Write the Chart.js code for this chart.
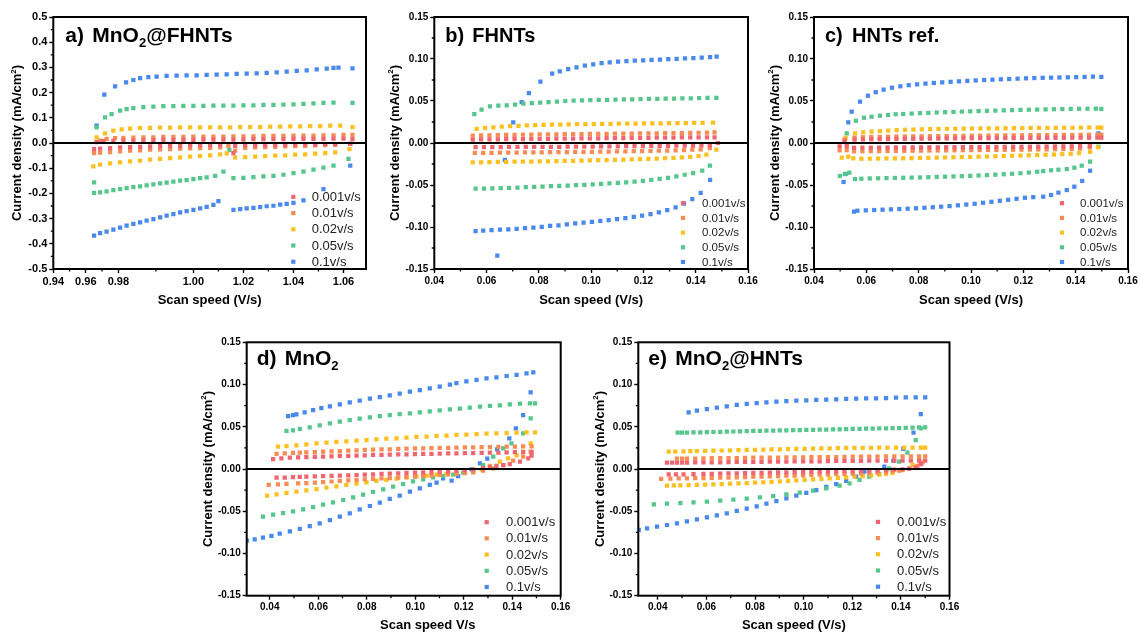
<!DOCTYPE html>
<html>
<head>
<meta charset="utf-8">
<script src="https://cdn.jsdelivr.net/npm/chart.js@4.4.1/dist/chart.umd.min.js"></script>
<style>
  body { margin: 0; background: #fff; width: 1140px; height: 632px; overflow: hidden; position: relative; }
  canvas { position: absolute; }
</style>
</head>
<body>
<canvas id="pa"></canvas>
<canvas id="pb"></canvas>
<canvas id="pc"></canvas>
<canvas id="pd"></canvas>
<canvas id="pe"></canvas>
<script>
// ---------------------------
// Data (x = scan speed, y = current density)
// ---------------------------

const SERIES_LABELS = ["0.001v/s", "0.01v/s", "0.02v/s", "0.05v/s", "0.1v/s"];
const SERIES_COLORS = ["#ef6670", "#f58b55", "#fcc022", "#56c68c", "#4a89ec"];

const Y_TITLE = ["Current density (mA/cm", "2", ")"];

// a) MnO2@FHNTs
const A_X_TICKS = [0.944, 0.957, 0.970, 1.00, 1.02, 1.04, 1.06];
const A_X_LABELS = ["0.94", "0.96", "0.98", "1.00", "1.02", "1.04", "1.06"];
const A_Y_TICKS = [-0.5, -0.4, -0.3, -0.2, -0.1, 0, 0.1, 0.2, 0.3, 0.4, 0.5];

const A_RED = [
  [0.9613,0.003],[0.964,0.007],[0.968,0.008],[0.972,0.009],[0.976,0.009],[0.98,0.011],[0.984,0.011],[0.988,0.012],[0.992,0.012],[0.996,0.012],[1.0,0.012],[1.004,0.013],[1.008,0.013],[1.012,0.013],[1.016,0.013],[1.02,0.013],[1.024,0.015],[1.028,0.015],[1.032,0.015],[1.036,0.015],[1.04,0.016],[1.044,0.016],[1.048,0.016],[1.052,0.016],[1.056,0.017],[1.06,0.017],[1.0636,0.015],
  [0.9603,-0.024],[0.9627,-0.022],[0.9667,-0.02],[0.9707,-0.017],[0.9747,-0.016],[0.9787,-0.015],[0.9827,-0.013],[0.9867,-0.012],[0.9907,-0.011],[0.9947,-0.011],[0.9987,-0.009],[1.0027,-0.008],[1.0067,-0.008],[1.0107,-0.007],[1.016,-0.04],[1.0167,-0.011],[1.0207,-0.009],[1.0247,-0.008],[1.0287,-0.008],[1.0327,-0.007],[1.0367,-0.007],[1.0407,-0.005],[1.0447,-0.005],[1.0487,-0.005],[1.0527,-0.004],[1.0567,-0.004],[1.0627,-0.003]
];
const A_ORANGE = [
  [0.9627,0.009],[0.9653,0.016],[0.9687,0.019],[0.972,0.02],[0.976,0.021],[0.98,0.022],[0.984,0.022],[0.988,0.024],[0.992,0.024],[0.996,0.024],[1.0,0.025],[1.004,0.025],[1.008,0.025],[1.012,0.025],[1.016,0.026],[1.02,0.026],[1.024,0.026],[1.028,0.028],[1.032,0.028],[1.036,0.028],[1.04,0.029],[1.044,0.029],[1.048,0.029],[1.052,0.03],[1.056,0.03],[1.06,0.032],[1.0636,0.032],
  [0.9603,-0.04],[0.9627,-0.038],[0.9667,-0.036],[0.9707,-0.033],[0.9747,-0.03],[0.9787,-0.029],[0.9827,-0.026],[0.9867,-0.025],[0.9907,-0.024],[0.9947,-0.022],[0.9987,-0.021],[1.0027,-0.02],[1.0067,-0.019],[1.0107,-0.017],[1.014,-0.011],[1.0167,-0.03],[1.0207,-0.019],[1.0247,-0.017],[1.0287,-0.016],[1.0327,-0.015],[1.0367,-0.013],[1.0407,-0.012],[1.0447,-0.011],[1.0487,-0.009],[1.0527,-0.008],[1.0567,-0.007],[1.0627,-0.003]
];
const A_YELLOW = [
  [0.9613,0.022],[0.9647,0.038],[0.968,0.049],[0.9713,0.054],[0.9747,0.057],[0.9787,0.06],[0.9827,0.06],[0.9867,0.061],[0.9907,0.061],[0.9947,0.062],[0.9987,0.062],[1.0027,0.062],[1.0067,0.062],[1.0107,0.062],[1.0147,0.062],[1.0187,0.063],[1.0227,0.063],[1.0267,0.063],[1.0307,0.065],[1.0347,0.065],[1.0387,0.066],[1.0427,0.066],[1.0467,0.067],[1.0507,0.067],[1.0547,0.069],[1.0587,0.069],[1.0636,0.063],
  [0.96,-0.093],[0.9627,-0.086],[0.9667,-0.081],[0.9707,-0.077],[0.9747,-0.073],[0.9787,-0.07],[0.9827,-0.066],[0.9867,-0.063],[0.9907,-0.06],[0.9947,-0.057],[0.9987,-0.054],[1.0027,-0.052],[1.0067,-0.049],[1.0107,-0.045],[1.0133,-0.041],[1.0167,-0.057],[1.0207,-0.056],[1.0247,-0.054],[1.0287,-0.052],[1.0327,-0.05],[1.0367,-0.049],[1.0407,-0.046],[1.0447,-0.045],[1.0487,-0.042],[1.0527,-0.04],[1.0567,-0.037],[1.0624,-0.024]
];
const A_GREEN = [
  [0.9613,0.062],[0.9647,0.102],[0.9673,0.115],[0.9707,0.128],[0.9733,0.134],[0.976,0.138],[0.98,0.142],[0.984,0.144],[0.988,0.146],[0.992,0.146],[0.996,0.147],[1.0,0.147],[1.004,0.147],[1.008,0.148],[1.012,0.148],[1.016,0.148],[1.02,0.149],[1.024,0.149],[1.028,0.151],[1.032,0.151],[1.036,0.152],[1.04,0.153],[1.044,0.155],[1.048,0.157],[1.052,0.159],[1.056,0.16],[1.0636,0.159],
  [0.9603,-0.156],[0.9603,-0.198],[0.9627,-0.196],[0.9653,-0.192],[0.968,-0.187],[0.9707,-0.183],[0.9733,-0.179],[0.976,-0.175],[0.9787,-0.172],[0.9813,-0.168],[0.984,-0.164],[0.9867,-0.16],[0.9893,-0.157],[0.992,-0.153],[0.9947,-0.149],[0.9973,-0.147],[1.0,-0.143],[1.0027,-0.139],[1.0053,-0.136],[1.0087,-0.13],[1.012,-0.114],[1.0144,-0.028],[1.016,-0.139],[1.02,-0.138],[1.024,-0.135],[1.028,-0.132],[1.032,-0.13],[1.036,-0.126],[1.04,-0.12],[1.044,-0.114],[1.048,-0.106],[1.052,-0.098],[1.056,-0.09],[1.062,-0.063]
];
const A_BLUE = [
  [0.9613,0.069],[0.9644,0.192],[0.9687,0.225],[0.9731,0.241],[0.976,0.25],[0.9787,0.257],[0.982,0.261],[0.9853,0.263],[0.9893,0.266],[0.9933,0.267],[0.9973,0.268],[1.0013,0.268],[1.0053,0.27],[1.0093,0.271],[1.0133,0.272],[1.0173,0.274],[1.0213,0.275],[1.0253,0.276],[1.0293,0.278],[1.0333,0.28],[1.0373,0.283],[1.0413,0.286],[1.0453,0.288],[1.0493,0.292],[1.0533,0.295],[1.056,0.298],[1.058,0.299],[1.0636,0.296],
  [0.9603,-0.368],[0.9627,-0.358],[0.9653,-0.352],[0.968,-0.344],[0.9707,-0.336],[0.9733,-0.328],[0.976,-0.321],[0.9787,-0.315],[0.9813,-0.308],[0.984,-0.302],[0.9867,-0.295],[0.9893,-0.288],[0.992,-0.282],[0.9947,-0.275],[0.9973,-0.27],[1.0,-0.265],[1.0027,-0.259],[1.0053,-0.253],[1.008,-0.246],[1.01,-0.231],[1.016,-0.265],[1.0187,-0.262],[1.0213,-0.259],[1.024,-0.257],[1.0267,-0.254],[1.0293,-0.251],[1.032,-0.249],[1.0347,-0.245],[1.0373,-0.242],[1.04,-0.238],[1.044,-0.228],[1.052,-0.183],[1.0627,-0.09]
];

// b) FHNTs
const BC_X_TICKS = [0.04, 0.06, 0.08, 0.10, 0.12, 0.14, 0.16];
const BCDE_Y_TICKS = [-0.15, -0.10, -0.05, 0, 0.05, 0.10, 0.15];

const B_RED = [
  [0.0547,0.004],[0.0579,0.0042],[0.0611,0.0043],[0.0643,0.0044],[0.0675,0.0045],[0.0707,0.0046],[0.0739,0.0047],[0.0771,0.0048],[0.0803,0.0049],[0.0835,0.005],[0.0867,0.0051],[0.0899,0.0052],[0.0931,0.0053],[0.0963,0.0054],[0.0995,0.0055],[0.1027,0.0056],[0.1059,0.0057],[0.1091,0.0058],[0.1123,0.0059],[0.1155,0.006],[0.1187,0.0061],[0.1219,0.0062],[0.1251,0.0063],[0.1283,0.0064],[0.1315,0.0065],[0.1347,0.0066],[0.1379,0.0066],[0.1411,0.0067],[0.1443,0.0067],[0.1472,0.0067],
  [0.0558,-0.0048],[0.059,-0.0048],[0.0622,-0.0048],[0.0654,-0.0048],[0.0686,-0.0047],[0.0718,-0.0047],[0.075,-0.0047],[0.0782,-0.0046],[0.0814,-0.0046],[0.0846,-0.0045],[0.0878,-0.0045],[0.091,-0.0044],[0.0942,-0.0044],[0.0974,-0.0043],[0.1006,-0.0042],[0.1038,-0.0041],[0.107,-0.004],[0.1102,-0.0039],[0.1134,-0.0038],[0.1166,-0.0037],[0.1198,-0.0036],[0.123,-0.0035],[0.1262,-0.0034],[0.1294,-0.0033],[0.1326,-0.0032],[0.1358,-0.0031],[0.139,-0.003],[0.1422,-0.0029],[0.1454,-0.0028],[0.1485,0.0]
];
const B_ORANGE = [
  [0.0547,0.0087],[0.0579,0.009],[0.0611,0.0092],[0.0643,0.0094],[0.0675,0.0096],[0.0707,0.0098],[0.0739,0.0099],[0.0771,0.01],[0.0803,0.0102],[0.0835,0.0103],[0.0867,0.0104],[0.0899,0.0105],[0.0931,0.0106],[0.0963,0.0107],[0.0995,0.0108],[0.1027,0.0109],[0.1059,0.011],[0.1091,0.0111],[0.1123,0.0112],[0.1155,0.0113],[0.1187,0.0114],[0.1219,0.0115],[0.1251,0.0116],[0.1283,0.0117],[0.1315,0.0118],[0.1347,0.0119],[0.1379,0.012],[0.1411,0.0122],[0.1443,0.0124],[0.1472,0.0127],
  [0.0555,-0.0119],[0.0587,-0.0118],[0.0619,-0.0117],[0.0651,-0.0116],[0.0683,-0.0115],[0.0715,-0.0114],[0.0747,-0.0113],[0.0779,-0.0112],[0.0811,-0.0111],[0.0843,-0.011],[0.0875,-0.0109],[0.0907,-0.0108],[0.0939,-0.0107],[0.0971,-0.0106],[0.1003,-0.0105],[0.1035,-0.0104],[0.1067,-0.0102],[0.1099,-0.0101],[0.1131,-0.0099],[0.1163,-0.0098],[0.1195,-0.0096],[0.1227,-0.0094],[0.1259,-0.0092],[0.1291,-0.009],[0.1323,-0.0087],[0.1355,-0.0084],[0.1387,-0.008],[0.1419,-0.0075],[0.1454,-0.006]
];
const B_YELLOW = [
  [0.0562,0.0167],[0.0594,0.0179],[0.0626,0.0187],[0.0658,0.0195],[0.069,0.0201],[0.0722,0.0205],[0.0754,0.0209],[0.0786,0.0213],[0.0818,0.0216],[0.085,0.0218],[0.0882,0.022],[0.0914,0.0222],[0.0946,0.0224],[0.0978,0.0225],[0.101,0.0226],[0.1042,0.0228],[0.1074,0.0229],[0.1106,0.023],[0.1138,0.0231],[0.117,0.0232],[0.1202,0.0233],[0.1234,0.0234],[0.1266,0.0235],[0.1298,0.0236],[0.133,0.0237],[0.1362,0.0238],[0.1394,0.0239],[0.1426,0.024],[0.1466,0.0242],
  [0.0547,-0.023],[0.0579,-0.023],[0.0611,-0.0228],[0.0643,-0.0226],[0.0675,-0.0225],[0.0707,-0.0223],[0.0739,-0.0222],[0.0771,-0.0221],[0.0803,-0.022],[0.0835,-0.0218],[0.0867,-0.0216],[0.0899,-0.0214],[0.0931,-0.0212],[0.0963,-0.021],[0.0995,-0.0208],[0.1027,-0.0205],[0.1059,-0.0203],[0.1091,-0.0201],[0.1123,-0.0198],[0.1155,-0.0195],[0.1187,-0.0192],[0.1219,-0.0189],[0.1251,-0.0185],[0.1283,-0.0181],[0.1315,-0.0176],[0.1347,-0.0171],[0.1379,-0.0165],[0.1411,-0.0155],[0.1441,-0.0139],[0.1479,-0.0079]
];
const B_GREEN = [
  [0.0553,0.0345],[0.0581,0.0397],[0.0613,0.0437],[0.0645,0.0444],[0.0677,0.0448],[0.0709,0.0456],[0.0741,0.0468],[0.0773,0.0476],[0.0805,0.048],[0.0837,0.0488],[0.0869,0.0492],[0.0901,0.05],[0.0933,0.0504],[0.0965,0.0508],[0.0997,0.051],[0.1029,0.0512],[0.1061,0.0514],[0.1093,0.0516],[0.1125,0.0518],[0.1157,0.052],[0.1189,0.0522],[0.1221,0.0524],[0.1253,0.0526],[0.1285,0.0528],[0.1317,0.0528],[0.1349,0.053],[0.1381,0.0532],[0.1413,0.0534],[0.1445,0.0536],[0.1479,0.0536],
  [0.0558,-0.0544],[0.059,-0.0542],[0.0622,-0.054],[0.0654,-0.0538],[0.0686,-0.0534],[0.0718,-0.053],[0.075,-0.0526],[0.0782,-0.0522],[0.0814,-0.0518],[0.0846,-0.0514],[0.0878,-0.051],[0.091,-0.0506],[0.0942,-0.0502],[0.0974,-0.0498],[0.1006,-0.0494],[0.1038,-0.0488],[0.107,-0.0482],[0.1102,-0.0476],[0.1134,-0.0468],[0.1166,-0.046],[0.1198,-0.045],[0.123,-0.044],[0.1262,-0.0428],[0.1294,-0.0414],[0.1326,-0.0398],[0.1358,-0.0378],[0.139,-0.036],[0.1425,-0.033],[0.1454,-0.027]
];
const B_BLUE = [
  [0.0641,-0.134],[0.067,-0.02],[0.0702,0.0246],[0.0734,0.0488],[0.0762,0.0595],[0.0806,0.073],[0.0851,0.0825],[0.088,0.0853],[0.0912,0.088],[0.0944,0.09],[0.0976,0.092],[0.1008,0.0937],[0.104,0.0952],[0.1071,0.096],[0.1103,0.0968],[0.1135,0.0974],[0.1167,0.098],[0.1199,0.0984],[0.1231,0.099],[0.1263,0.0994],[0.1295,0.0998],[0.1327,0.1002],[0.1359,0.1006],[0.1391,0.101],[0.1423,0.1016],[0.1455,0.1022],[0.148,0.1028],
  [0.0558,-0.105],[0.0587,-0.1044],[0.0619,-0.1038],[0.0651,-0.1032],[0.0683,-0.1028],[0.0715,-0.1022],[0.0747,-0.1014],[0.0779,-0.1006],[0.0811,-0.0998],[0.0843,-0.0988],[0.0875,-0.098],[0.0907,-0.097],[0.0939,-0.0958],[0.0971,-0.0948],[0.1003,-0.0938],[0.1035,-0.0928],[0.1067,-0.0918],[0.1099,-0.0906],[0.1131,-0.0894],[0.1163,-0.088],[0.1195,-0.0865],[0.1227,-0.0848],[0.1259,-0.0825],[0.1291,-0.0798],[0.1323,-0.0765],[0.1355,-0.0722],[0.1387,-0.0668],[0.1419,-0.0595],[0.1455,-0.044]
];

// c) HNTs ref.
const C_RED = [
  [0.0517,0.002],[0.0555,0.004],[0.0587,0.0043],[0.0619,0.0045],[0.0651,0.0046],[0.0683,0.0047],[0.0715,0.0048],[0.0747,0.0049],[0.0779,0.005],[0.0811,0.0051],[0.0843,0.0052],[0.0875,0.0053],[0.0907,0.0054],[0.0939,0.0055],[0.0971,0.0055],[0.1003,0.0056],[0.1035,0.0057],[0.1067,0.0057],[0.1099,0.0058],[0.1131,0.0059],[0.1163,0.0059],[0.1195,0.006],[0.1227,0.006],[0.1259,0.0061],[0.1291,0.0061],[0.1323,0.0062],[0.1355,0.0062],[0.1387,0.0063],[0.1419,0.0063],[0.1451,0.0063],[0.1483,0.0064],[0.1498,0.0063],
  [0.0498,-0.004],[0.0525,-0.0035],[0.0553,-0.0056],[0.0585,-0.0055],[0.0617,-0.0055],[0.0649,-0.0054],[0.0681,-0.0054],[0.0713,-0.0053],[0.0745,-0.0053],[0.0777,-0.0052],[0.0809,-0.0052],[0.0841,-0.0051],[0.0873,-0.0051],[0.0905,-0.005],[0.0937,-0.005],[0.0969,-0.0049],[0.1001,-0.0048],[0.1033,-0.0048],[0.1065,-0.0047],[0.1097,-0.0047],[0.1129,-0.0046],[0.1161,-0.0045],[0.1193,-0.0045],[0.1225,-0.0044],[0.1257,-0.0043],[0.1289,-0.0042],[0.1321,-0.0041],[0.1353,-0.004],[0.1385,-0.0039],[0.1417,-0.0038],[0.1454,-0.0036]
];
const C_ORANGE = [
  [0.0517,0.004],[0.0555,0.0063],[0.0587,0.0068],[0.0619,0.0071],[0.0651,0.0073],[0.0683,0.0075],[0.0715,0.0077],[0.0747,0.0078],[0.0779,0.0079],[0.0811,0.008],[0.0843,0.0081],[0.0875,0.0082],[0.0907,0.0083],[0.0939,0.0084],[0.0971,0.0085],[0.1003,0.0086],[0.1035,0.0087],[0.1067,0.0088],[0.1099,0.0089],[0.1131,0.009],[0.1163,0.0091],[0.1195,0.0092],[0.1227,0.0093],[0.1259,0.0093],[0.1291,0.0094],[0.1323,0.0095],[0.1355,0.0096],[0.1387,0.0096],[0.1419,0.0097],[0.1451,0.0098],[0.1483,0.0099],[0.1498,0.0099],
  [0.0498,-0.0087],[0.0525,-0.0085],[0.0553,-0.0099],[0.0585,-0.0098],[0.0617,-0.0097],[0.0649,-0.0096],[0.0681,-0.0095],[0.0713,-0.0094],[0.0745,-0.0093],[0.0777,-0.0092],[0.0809,-0.0091],[0.0841,-0.009],[0.0873,-0.0089],[0.0905,-0.0088],[0.0937,-0.0087],[0.0969,-0.0086],[0.1001,-0.0085],[0.1033,-0.0084],[0.1065,-0.0083],[0.1097,-0.0082],[0.1129,-0.0081],[0.1161,-0.008],[0.1193,-0.0079],[0.1225,-0.0078],[0.1257,-0.0077],[0.1289,-0.0076],[0.1321,-0.0074],[0.1353,-0.0072],[0.1385,-0.007],[0.1417,-0.0067],[0.1454,-0.0052]
];
const C_YELLOW = [
  [0.0521,0.0063],[0.0557,0.0115],[0.0588,0.0127],[0.062,0.0135],[0.0652,0.0142],[0.0684,0.0148],[0.0716,0.0153],[0.0748,0.0157],[0.078,0.016],[0.0812,0.0163],[0.0844,0.0165],[0.0876,0.0167],[0.0908,0.0169],[0.094,0.017],[0.0972,0.0171],[0.1004,0.0172],[0.1036,0.0173],[0.1068,0.0174],[0.11,0.0175],[0.1132,0.0176],[0.1164,0.0177],[0.1196,0.0178],[0.1228,0.0179],[0.126,0.018],[0.1292,0.018],[0.1324,0.0181],[0.1356,0.0182],[0.1388,0.0182],[0.142,0.0183],[0.1452,0.0184],[0.1484,0.0184],[0.1498,0.0183],
  [0.0506,-0.0175],[0.0531,-0.0163],[0.055,-0.0182],[0.0581,-0.0187],[0.0613,-0.0186],[0.0645,-0.0185],[0.0677,-0.0184],[0.0709,-0.0183],[0.0741,-0.0182],[0.0773,-0.018],[0.0805,-0.0178],[0.0837,-0.0176],[0.0869,-0.0174],[0.0901,-0.0172],[0.0933,-0.017],[0.0965,-0.0168],[0.0997,-0.0166],[0.1029,-0.0163],[0.1061,-0.0161],[0.1093,-0.0158],[0.1125,-0.0155],[0.1157,-0.0152],[0.1189,-0.0149],[0.1221,-0.0146],[0.1253,-0.0143],[0.1285,-0.014],[0.1317,-0.0137],[0.1349,-0.0133],[0.1381,-0.0128],[0.1413,-0.012],[0.1455,-0.0104],[0.1485,-0.005]
];
const C_GREEN = [
  [0.0525,0.0115],[0.056,0.0265],[0.0591,0.0301],[0.062,0.0313],[0.0652,0.0325],[0.0683,0.0333],[0.0712,0.0342],[0.0741,0.0345],[0.0773,0.035],[0.0805,0.0355],[0.0837,0.0359],[0.0869,0.0363],[0.0901,0.0367],[0.0933,0.037],[0.0965,0.0374],[0.0997,0.0377],[0.1029,0.038],[0.1061,0.0383],[0.1093,0.0386],[0.1125,0.0389],[0.1157,0.0392],[0.1189,0.0394],[0.1221,0.0396],[0.1253,0.0398],[0.1285,0.04],[0.1317,0.0402],[0.1349,0.0404],[0.1381,0.0406],[0.1413,0.0407],[0.1445,0.0408],[0.1477,0.0409],[0.1498,0.0405],
  [0.0499,-0.0393],[0.0518,-0.0369],[0.0535,-0.0354],[0.0557,-0.0429],[0.0581,-0.0425],[0.0613,-0.0422],[0.0645,-0.042],[0.0677,-0.0418],[0.0709,-0.0416],[0.0741,-0.0414],[0.0773,-0.0412],[0.0805,-0.041],[0.0837,-0.0407],[0.0869,-0.0404],[0.0901,-0.0401],[0.0933,-0.0398],[0.0965,-0.0395],[0.0997,-0.0391],[0.1029,-0.0387],[0.1061,-0.0382],[0.1093,-0.0377],[0.1125,-0.0372],[0.1157,-0.0366],[0.1189,-0.036],[0.1221,-0.0352],[0.1253,-0.0342],[0.1276,-0.0335],[0.1306,-0.0325],[0.1334,-0.0318],[0.1366,-0.031],[0.1395,-0.0294],[0.1423,-0.027],[0.1455,-0.0222],[0.1487,-0.0044]
];
const C_BLUE = [
  [0.0513,-0.0464],[0.0521,-0.0369],[0.0531,0.0246],[0.0544,0.0373],[0.0576,0.0492],[0.0606,0.0563],[0.0636,0.0605],[0.0666,0.0635],[0.0698,0.0658],[0.073,0.0675],[0.0762,0.0688],[0.0794,0.0698],[0.0826,0.0707],[0.0858,0.0715],[0.089,0.0722],[0.0922,0.0728],[0.0954,0.0734],[0.0986,0.074],[0.1018,0.0745],[0.105,0.075],[0.1082,0.0754],[0.1114,0.0758],[0.1146,0.0762],[0.1178,0.0766],[0.121,0.077],[0.1242,0.0773],[0.1274,0.0776],[0.1306,0.0778],[0.1338,0.078],[0.137,0.0782],[0.1402,0.0784],[0.1434,0.0786],[0.1466,0.079],[0.1498,0.0787],[0.1487,0.0115],
  [0.0553,-0.0817],[0.0566,-0.0806],[0.0598,-0.0802],[0.063,-0.0798],[0.0662,-0.0794],[0.0694,-0.079],[0.0726,-0.0786],[0.0758,-0.0782],[0.079,-0.0777],[0.0822,-0.0771],[0.0854,-0.0765],[0.0886,-0.0758],[0.0918,-0.0751],[0.095,-0.0742],[0.0982,-0.0733],[0.1014,-0.0724],[0.1046,-0.0712],[0.1078,-0.07],[0.111,-0.0688],[0.1142,-0.0676],[0.1174,-0.0664],[0.1206,-0.0652],[0.1238,-0.0645],[0.1276,-0.0639],[0.1306,-0.0619],[0.1334,-0.0591],[0.1366,-0.056],[0.1395,-0.052],[0.1425,-0.0452],[0.1455,-0.033]
];

// d) MnO2
const DE_X_TICKS = [0.04, 0.06, 0.08, 0.10, 0.12, 0.14, 0.16];

const D_RED = [
  [0.0414,0.0118],[0.0448,0.0126],[0.0483,0.0134],[0.0517,0.0138],[0.0551,0.0142],[0.0586,0.0144],[0.062,0.0146],[0.0655,0.015],[0.0689,0.0154],[0.0724,0.0156],[0.0758,0.0158],[0.0792,0.0162],[0.0826,0.0166],[0.0861,0.0168],[0.0895,0.017],[0.093,0.0172],[0.0964,0.0174],[0.0999,0.0176],[0.1033,0.0178],[0.1067,0.018],[0.1101,0.0182],[0.1136,0.0184],[0.117,0.0185],[0.1205,0.0187],[0.1239,0.0189],[0.1274,0.0191],[0.1308,0.0193],[0.1343,0.0195],[0.1377,0.0197],[0.1411,0.0199],[0.1445,0.0201],[0.148,0.0201],
  [0.0428,-0.0103],[0.0462,-0.0101],[0.0496,-0.0097],[0.0524,-0.0094],[0.0551,-0.0091],[0.0586,-0.0087],[0.062,-0.0083],[0.0655,-0.0081],[0.0689,-0.0079],[0.0724,-0.0075],[0.0758,-0.0071],[0.0792,-0.0067],[0.0826,-0.0063],[0.0861,-0.0059],[0.0895,-0.0055],[0.093,-0.0051],[0.0964,-0.0047],[0.0999,-0.0043],[0.1033,-0.0039],[0.1067,-0.0036],[0.1101,-0.0032],[0.1136,-0.0027],[0.117,-0.002],[0.1205,-0.0012],[0.1239,-0.0004],[0.128,0.0012],[0.1308,0.0024],[0.1335,0.0036],[0.1363,0.0047],[0.139,0.0059],[0.1432,0.0087],[0.1466,0.0126],[0.148,0.0158]
];
const D_ORANGE = [
  [0.0428,0.0178],[0.0462,0.0184],[0.0496,0.019],[0.0524,0.0194],[0.0551,0.0197],[0.0586,0.0201],[0.062,0.0205],[0.0655,0.0209],[0.0689,0.0213],[0.0724,0.0217],[0.0758,0.0221],[0.0792,0.0225],[0.0826,0.0229],[0.0861,0.0231],[0.0895,0.0233],[0.093,0.0237],[0.0964,0.0241],[0.0999,0.0243],[0.1033,0.0245],[0.1067,0.0247],[0.1101,0.0249],[0.1136,0.0251],[0.117,0.0253],[0.1205,0.0255],[0.1239,0.0257],[0.1274,0.0258],[0.1308,0.026],[0.1343,0.0262],[0.1377,0.0264],[0.1411,0.0266],[0.1445,0.0268],[0.148,0.0268],
  [0.0396,-0.0189],[0.0434,-0.0182],[0.0469,-0.0177],[0.0517,-0.017],[0.0551,-0.0166],[0.0586,-0.016],[0.062,-0.0154],[0.0655,-0.0148],[0.0689,-0.0142],[0.0724,-0.0136],[0.0758,-0.013],[0.0792,-0.0124],[0.0826,-0.0118],[0.0861,-0.0112],[0.0895,-0.0107],[0.093,-0.0101],[0.0964,-0.0095],[0.0999,-0.0089],[0.1033,-0.0083],[0.1067,-0.0077],[0.1101,-0.0071],[0.1136,-0.0065],[0.117,-0.0059],[0.1205,-0.005],[0.1239,-0.0039],[0.128,-0.002],[0.1322,0.0008],[0.1363,0.0047],[0.1404,0.0099],[0.1445,0.0146],[0.1476,0.0205]
];
const D_YELLOW = [
  [0.0434,0.0264],[0.0469,0.0272],[0.051,0.028],[0.0551,0.0292],[0.0593,0.0304],[0.0634,0.0312],[0.0675,0.032],[0.0716,0.0328],[0.0758,0.0335],[0.0799,0.0343],[0.084,0.0351],[0.0881,0.0359],[0.0923,0.0363],[0.0964,0.0371],[0.1005,0.0379],[0.1047,0.0383],[0.1088,0.0391],[0.1129,0.0395],[0.117,0.0403],[0.1211,0.0407],[0.1253,0.0414],[0.1294,0.0418],[0.1335,0.0422],[0.1377,0.0426],[0.1418,0.043],[0.1459,0.0434],[0.1494,0.0434],
  [0.0389,-0.0316],[0.0428,-0.03],[0.0469,-0.0284],[0.051,-0.0268],[0.0551,-0.0253],[0.0593,-0.0237],[0.0634,-0.0221],[0.0675,-0.0205],[0.0716,-0.0189],[0.0758,-0.0174],[0.0799,-0.0158],[0.084,-0.0142],[0.0881,-0.013],[0.0923,-0.0114],[0.0964,-0.0099],[0.1005,-0.0087],[0.1047,-0.0079],[0.1088,-0.0067],[0.1129,-0.0059],[0.117,-0.0051],[0.1205,-0.0043],[0.1239,-0.0028],[0.1274,-0.0004],[0.1308,0.0036],[0.1349,0.0087],[0.1383,0.0126],[0.1418,0.0162],[0.1445,0.0205],[0.1476,0.0304]
];
const D_GREEN = [
  [0.0469,0.045],[0.0496,0.0458],[0.0524,0.0474],[0.0565,0.0493],[0.0606,0.0517],[0.0648,0.0541],[0.0689,0.056],[0.073,0.058],[0.0771,0.0596],[0.0813,0.0612],[0.0854,0.0627],[0.0895,0.0639],[0.0936,0.0651],[0.0978,0.0659],[0.1019,0.0671],[0.106,0.0683],[0.1101,0.0695],[0.1143,0.0706],[0.1184,0.0714],[0.1225,0.0726],[0.1267,0.0738],[0.1308,0.0746],[0.1349,0.0754],[0.139,0.0766],[0.1432,0.0773],[0.1473,0.0777],[0.1494,0.0777],
  [0.0372,-0.0564],[0.0414,-0.0541],[0.0455,-0.0521],[0.0496,-0.0501],[0.0538,-0.0478],[0.0579,-0.045],[0.062,-0.0422],[0.0661,-0.0395],[0.0703,-0.0367],[0.0744,-0.0335],[0.0785,-0.0304],[0.0826,-0.0272],[0.0868,-0.0241],[0.0909,-0.0209],[0.095,-0.0178],[0.0991,-0.0146],[0.1033,-0.0122],[0.1074,-0.0099],[0.1115,-0.0083],[0.1157,-0.0067],[0.1198,-0.0043],[0.1239,-0.0012],[0.128,0.0047],[0.1322,0.0146],[0.1363,0.0245],[0.1397,0.0304],[0.1445,0.0422],[0.1476,0.06]
];
const D_BLUE = [
  [0.0476,0.0627],[0.0496,0.0639],[0.051,0.0647],[0.0544,0.0671],[0.0579,0.0698],[0.0613,0.0722],[0.0648,0.0742],[0.0689,0.0766],[0.073,0.0789],[0.0771,0.0809],[0.0813,0.0833],[0.0854,0.0852],[0.0895,0.0872],[0.0936,0.0892],[0.0978,0.0915],[0.1019,0.0935],[0.106,0.0955],[0.1101,0.0975],[0.1143,0.0998],[0.117,0.1018],[0.1211,0.1038],[0.1253,0.1054],[0.1294,0.1073],[0.1335,0.1085],[0.1377,0.1101],[0.1418,0.1113],[0.1459,0.1133],[0.1487,0.1144],
  [0.0306,-0.0848],[0.0338,-0.0833],[0.0372,-0.0813],[0.0407,-0.0793],[0.0441,-0.0766],[0.0483,-0.0738],[0.0524,-0.071],[0.0565,-0.0675],[0.0606,-0.0643],[0.0648,-0.0604],[0.0689,-0.0564],[0.073,-0.0525],[0.0771,-0.0477],[0.0813,-0.0438],[0.0854,-0.0399],[0.0895,-0.0355],[0.0936,-0.0316],[0.0978,-0.0268],[0.1019,-0.0229],[0.106,-0.0189],[0.1088,-0.0162],[0.1115,-0.011],[0.115,-0.0138],[0.1177,-0.0083],[0.1232,-0.0004],[0.1267,0.0067],[0.1297,0.0122],[0.1338,0.0233],[0.1388,0.0363],[0.1415,0.0481],[0.1445,0.0639],[0.1476,0.0908]
];

// e) MnO2@HNTs
const E_RED = [
  [0.0438,0.0075],[0.0459,0.0075],[0.0479,0.0075],[0.05,0.0075],[0.052,0.0075],[0.0554,0.0077],[0.0588,0.0079],[0.0622,0.0079],[0.0657,0.0079],[0.0691,0.0081],[0.0725,0.0083],[0.0759,0.0083],[0.0793,0.0083],[0.0827,0.0085],[0.0861,0.0087],[0.0895,0.0087],[0.0929,0.0087],[0.0963,0.0089],[0.0998,0.0091],[0.1032,0.0091],[0.1066,0.0091],[0.11,0.0093],[0.1134,0.0095],[0.1168,0.0095],[0.1202,0.0095],[0.1236,0.0097],[0.127,0.0099],[0.1304,0.0099],[0.1339,0.0099],[0.1373,0.0099],[0.1407,0.0099],[0.1441,0.0099],[0.1475,0.0099],[0.15,0.0099],
  [0.0445,-0.0063],[0.0475,-0.0063],[0.0506,-0.0063],[0.0547,-0.0061],[0.0588,-0.0059],[0.0622,-0.0057],[0.0657,-0.0055],[0.0691,-0.0053],[0.0725,-0.0051],[0.0759,-0.0049],[0.0793,-0.0047],[0.0827,-0.0045],[0.0861,-0.0043],[0.0895,-0.0041],[0.0929,-0.0039],[0.0963,-0.0037],[0.0998,-0.0036],[0.1032,-0.0034],[0.1066,-0.0032],[0.11,-0.003],[0.1134,-0.0028],[0.1168,-0.0026],[0.1202,-0.0024],[0.1236,-0.0022],[0.127,-0.002],[0.1304,-0.0016],[0.1339,-0.0012],[0.1373,-0.0008],[0.1407,-0.0004],[0.1434,0.0004],[0.1461,0.002],[0.1482,0.0059]
];
const E_ORANGE = [
  [0.0479,0.0122],[0.05,0.0122],[0.052,0.0122],[0.0554,0.0124],[0.0588,0.0126],[0.0622,0.0128],[0.0657,0.013],[0.0691,0.013],[0.0725,0.013],[0.0759,0.0132],[0.0793,0.0134],[0.0827,0.0134],[0.0861,0.0134],[0.0895,0.0136],[0.0929,0.0138],[0.0963,0.0138],[0.0998,0.0138],[0.1032,0.014],[0.1066,0.0142],[0.11,0.0142],[0.1134,0.0142],[0.1168,0.0144],[0.1202,0.0146],[0.1236,0.0146],[0.127,0.0146],[0.1304,0.0148],[0.1339,0.015],[0.1373,0.015],[0.1407,0.015],[0.1441,0.015],[0.1475,0.015],[0.15,0.015],
  [0.0414,-0.0118],[0.0452,-0.0114],[0.0486,-0.0112],[0.052,-0.011],[0.0554,-0.0108],[0.0588,-0.0107],[0.0622,-0.0105],[0.0657,-0.0103],[0.0691,-0.0101],[0.0725,-0.0099],[0.0759,-0.0095],[0.0793,-0.0091],[0.0827,-0.0089],[0.0861,-0.0087],[0.0895,-0.0083],[0.0929,-0.0079],[0.0963,-0.0077],[0.0998,-0.0075],[0.1032,-0.0071],[0.1066,-0.0067],[0.11,-0.0063],[0.1134,-0.0059],[0.1168,-0.0057],[0.1202,-0.0055],[0.1236,-0.0051],[0.127,-0.0047],[0.1304,-0.0042],[0.1339,-0.0036],[0.1366,-0.0028],[0.1393,-0.002],[0.1434,0.0004],[0.1468,0.0036],[0.1489,0.0075]
];
const E_YELLOW = [
  [0.0445,0.0205],[0.0472,0.0207],[0.0506,0.0209],[0.0534,0.0211],[0.0561,0.0213],[0.0595,0.0215],[0.0629,0.0217],[0.0663,0.0219],[0.0697,0.0221],[0.0732,0.0223],[0.0766,0.0225],[0.08,0.0227],[0.0834,0.0229],[0.0868,0.0231],[0.0902,0.0233],[0.0936,0.0235],[0.097,0.0237],[0.1004,0.0239],[0.1039,0.0241],[0.1073,0.0243],[0.1107,0.0245],[0.1141,0.0247],[0.1175,0.0249],[0.1209,0.0249],[0.1243,0.0249],[0.1277,0.0251],[0.1311,0.0253],[0.1345,0.0253],[0.138,0.0253],[0.1414,0.0253],[0.1448,0.0253],[0.1482,0.0253],[0.15,0.0253],
  [0.0438,-0.0197],[0.0466,-0.0195],[0.0493,-0.0193],[0.0527,-0.0191],[0.0561,-0.0189],[0.0595,-0.0186],[0.0629,-0.0182],[0.0663,-0.0178],[0.0697,-0.0174],[0.0732,-0.017],[0.0766,-0.0166],[0.08,-0.0162],[0.0834,-0.0158],[0.0868,-0.0152],[0.0902,-0.0146],[0.0936,-0.014],[0.097,-0.0134],[0.1004,-0.0128],[0.1039,-0.0122],[0.1073,-0.0116],[0.1107,-0.011],[0.1141,-0.0105],[0.1175,-0.0099],[0.1209,-0.0091],[0.1243,-0.0083],[0.1277,-0.0075],[0.1311,-0.0067],[0.1339,-0.0057],[0.1366,-0.0047],[0.1407,-0.0012],[0.1448,0.0047],[0.1475,0.0114]
];
const E_GREEN = [
  [0.0482,0.043],[0.05,0.043],[0.052,0.0431],[0.0547,0.0433],[0.0575,0.0434],[0.0602,0.0436],[0.0629,0.0438],[0.0657,0.044],[0.0684,0.0442],[0.0711,0.0444],[0.0738,0.0446],[0.0766,0.0448],[0.0793,0.045],[0.082,0.0451],[0.0847,0.0453],[0.0875,0.0454],[0.0902,0.0456],[0.0929,0.0458],[0.0957,0.0459],[0.0984,0.0461],[0.1011,0.0462],[0.1039,0.0464],[0.1066,0.0466],[0.1093,0.0467],[0.1121,0.0469],[0.1148,0.047],[0.1175,0.0472],[0.1202,0.0474],[0.123,0.0475],[0.1257,0.0477],[0.1284,0.0478],[0.1311,0.048],[0.1339,0.0481],[0.1366,0.0483],[0.1393,0.0484],[0.142,0.0486],[0.1448,0.0489],[0.1475,0.0493],[0.15,0.0493],
  [0.0384,-0.0418],[0.0438,-0.041],[0.0493,-0.0403],[0.0547,-0.0395],[0.0602,-0.0387],[0.0657,-0.0375],[0.0711,-0.0363],[0.0766,-0.0351],[0.082,-0.0335],[0.0875,-0.032],[0.0929,-0.03],[0.0984,-0.028],[0.1039,-0.0257],[0.1093,-0.0229],[0.1148,-0.0197],[0.1189,-0.017],[0.123,-0.013],[0.127,-0.0091],[0.1311,-0.0059],[0.1352,0.0008],[0.1393,0.0087],[0.1427,0.0193],[0.1461,0.0343],[0.1482,0.0481]
];
const E_BLUE = [
  [0.0527,0.0671],[0.0561,0.0691],[0.0602,0.071],[0.0643,0.0726],[0.0684,0.0742],[0.0725,0.0758],[0.0766,0.077],[0.0807,0.0781],[0.0847,0.0789],[0.0888,0.0797],[0.0929,0.0805],[0.097,0.0809],[0.1011,0.0813],[0.1052,0.0817],[0.1093,0.0821],[0.1134,0.0825],[0.1175,0.0829],[0.1216,0.0833],[0.1257,0.0836],[0.1298,0.0836],[0.1339,0.084],[0.138,0.0844],[0.142,0.0848],[0.1461,0.0848],[0.15,0.0848],
  [0.0322,-0.0722],[0.0356,-0.0702],[0.0397,-0.0683],[0.0438,-0.0663],[0.0479,-0.0643],[0.052,-0.062],[0.0561,-0.0596],[0.0602,-0.0572],[0.0643,-0.0549],[0.0684,-0.0525],[0.0725,-0.0497],[0.0766,-0.047],[0.0807,-0.0442],[0.0847,-0.041],[0.0888,-0.0379],[0.0929,-0.0347],[0.097,-0.0316],[0.1011,-0.0284],[0.1052,-0.0249],[0.1093,-0.0213],[0.1134,-0.0178],[0.1175,-0.0142],[0.1216,-0.0091],[0.125,-0.0032],[0.1332,0.0028],[0.1369,0.0099],[0.141,0.0237],[0.1452,0.043],[0.1482,0.0651]
];

// ---------------------------
// Panels
// ---------------------------

const FONT = '"Liberation Sans", Arial, sans-serif';

const PANELS = [
  {
    id: "pa", box: { x: 0, y: 0, w: 380, h: 310 }, area: { l: 53.3, t: 17, r: 366, b: 269 },
    series: [A_RED, A_ORANGE, A_YELLOW, A_GREEN, A_BLUE],
    xMin: 0.944, xMax: 1.069, xTicks: A_X_TICKS, xLabels: A_X_LABELS,
    yMin: -0.5, yMax: 0.5, yTicks: A_Y_TICKS, yDigits: 1, tickFont: 11,
    prefix: "a)", name: ["MnO", "2", "@FHNTs"], nameFont: 21, nameDx: 12, nameGap: 39, nameDy: 25,
    xTitle: "Scan speed (V/s)", xtDx: 0, xtDy: 31, ytDx: 35.5,
    leg: { mx: 72.7, tx: 54.3, bottom: 7.3, gap: 16.2, fs: 13 }
  },
  {
    id: "pb", box: { x: 380, y: 0, w: 380, h: 310 }, area: { l: 54.3, t: 17, r: 368, b: 269 },
    series: [B_RED, B_ORANGE, B_YELLOW, B_GREEN, B_BLUE],
    xMin: 0.04, xMax: 0.16, xTicks: BC_X_TICKS, xLabels: null,
    yMin: -0.15, yMax: 0.15, yTicks: BCDE_Y_TICKS, yDigits: 2, tickFont: 10,
    prefix: "b)", name: ["FHNTs"], nameFont: 20, nameDx: 11, nameGap: 38, nameDy: 25,
    xTitle: "Scan speed (V/s)", xtDx: 0, xtDy: 31, ytDx: 39,
    leg: { mx: 65, tx: 46, bottom: 7, gap: 14.7, fs: 11.5 }
  },
  {
    id: "pc", box: { x: 760, y: 0, w: 380, h: 310 }, area: { l: 54, t: 17, r: 368, b: 269 },
    series: [C_RED, C_ORANGE, C_YELLOW, C_GREEN, C_BLUE],
    xMin: 0.04, xMax: 0.16, xTicks: BC_X_TICKS, xLabels: null,
    yMin: -0.15, yMax: 0.15, yTicks: BCDE_Y_TICKS, yDigits: 2, tickFont: 10,
    prefix: "c)", name: ["HNTs ref."], nameFont: 20, nameDx: 11, nameGap: 38, nameDy: 25,
    xTitle: "Scan speed (V/s)", xtDx: 0, xtDy: 31, ytDx: 39,
    leg: { mx: 66, tx: 48, bottom: 7, gap: 14.7, fs: 11.5 }
  },
  {
    id: "pd", box: { x: 190, y: 310, w: 390, h: 322 }, area: { l: 56.7, t: 32.3, r: 370.7, b: 285.7 },
    series: [D_RED, D_ORANGE, D_YELLOW, D_GREEN, D_BLUE],
    xMin: 0.0305, xMax: 0.16, xTicks: DE_X_TICKS, xLabels: null,
    yMin: -0.15, yMax: 0.15, yTicks: BCDE_Y_TICKS, yDigits: 2, tickFont: 10,
    prefix: "d)", name: ["MnO", "2"], nameFont: 21, nameDx: 10, nameGap: 38, nameDy: 23,
    xTitle: "Scan speed V/s", xtDx: 24, xtDy: 29.3, ytDx: 38.7,
    leg: { mx: 74, tx: 54.7, bottom: 8.7, gap: 16.2, fs: 13 }
  },
  {
    id: "pe", box: { x: 570, y: 310, w: 400, h: 322 }, area: { l: 68.3, t: 32.3, r: 379.5, b: 285.7 },
    series: [E_RED, E_ORANGE, E_YELLOW, E_GREEN, E_BLUE],
    xMin: 0.032, xMax: 0.16, xTicks: DE_X_TICKS, xLabels: null,
    yMin: -0.15, yMax: 0.15, yTicks: BCDE_Y_TICKS, yDigits: 2, tickFont: 10,
    prefix: "e)", name: ["MnO", "2", "@HNTs"], nameFont: 21, nameDx: 10, nameGap: 37, nameDy: 23,
    xTitle: "Scan speed (V/s)", xtDx: 0, xtDy: 29.3, ytDx: 38.3,
    leg: { mx: 71.5, tx: 52.5, bottom: 9, gap: 16.2, fs: 13 }
  }
];

// text with every second part as sub/superscript
function drawRich(ctx, x, y, parts, fs, shift) {
  let cx = x;
  parts.forEach((t, i) => {
    const small = i % 2 === 1;
    ctx.font = `bold ${small ? Math.round(fs * 0.64) : fs}px ${FONT}`;
    ctx.fillText(t, cx, small ? y + shift : y);
    cx += ctx.measureText(t).width;
  });
  return cx - x;
}

function richWidth(ctx, parts, fs) {
  let w = 0;
  parts.forEach((t, i) => {
    ctx.font = `bold ${i % 2 === 1 ? Math.round(fs * 0.64) : fs}px ${FONT}`;
    w += ctx.measureText(t).width;
  });
  return w;
}

function makeDeco(p) {
  return {
    id: "deco_" + p.id,
    afterDatasetsDraw(chart) {
      const { ctx, chartArea: a, scales } = chart;
      const y0 = scales.y.getPixelForValue(0);
      ctx.save();
      ctx.strokeStyle = "#000";
      ctx.lineWidth = 2;
      ctx.beginPath();
      ctx.moveTo(a.left, y0);
      ctx.lineTo(a.right, y0);
      ctx.stroke();
      ctx.restore();
    },
    afterDraw(chart) {
      const { ctx, chartArea: a, scales } = chart;
      ctx.save();
      ctx.fillStyle = "#000";
      ctx.strokeStyle = "#000";

      // frame
      ctx.lineWidth = 2;
      ctx.strokeRect(a.left, a.top, a.right - a.left, a.bottom - a.top);

      // minor ticks
      ctx.lineWidth = 1.3;
      ctx.beginPath();
      const yt = scales.y.ticks;
      for (let i = 0; i < yt.length - 1; i++) {
        const py = scales.y.getPixelForValue((yt[i].value + yt[i + 1].value) / 2);
        ctx.moveTo(a.left - 2.5, py);
        ctx.lineTo(a.left, py);
      }
      const xt = scales.x.ticks;
      for (let i = 0; i < xt.length - 1; i++) {
        const px = scales.x.getPixelForValue((xt[i].value + xt[i + 1].value) / 2);
        ctx.moveTo(px, a.bottom);
        ctx.lineTo(px, a.bottom + 2.5);
      }
      ctx.stroke();

      // panel name
      ctx.textBaseline = "alphabetic";
      ctx.textAlign = "left";
      ctx.font = `bold ${p.nameFont}px ${FONT}`;
      ctx.fillText(p.prefix, a.left + p.nameDx, a.top + p.nameDy);
      drawRich(ctx, a.left + p.nameGap, a.top + p.nameDy, p.name, p.nameFont, p.nameFont * 0.24);

      // x title
      ctx.textAlign = "center";
      ctx.textBaseline = "middle";
      ctx.font = `bold 13px ${FONT}`;
      ctx.fillText(p.xTitle, (a.left + a.right) / 2 + p.xtDx, a.bottom + p.xtDy);

      // y title
      ctx.save();
      ctx.translate(a.left - p.ytDx, (a.top + a.bottom) / 2);
      ctx.rotate(-Math.PI / 2);
      ctx.textAlign = "left";
      const w = richWidth(ctx, Y_TITLE, 13);
      drawRich(ctx, -w / 2, 0, Y_TITLE, 13, -4.5);
      ctx.restore();

      // legend
      const L = p.leg;
      ctx.textAlign = "left";
      ctx.textBaseline = "middle";
      ctx.font = `${L.fs}px ${FONT}`;
      SERIES_LABELS.forEach((lab, i) => {
        const ly = a.bottom - L.bottom - (SERIES_LABELS.length - 1 - i) * L.gap;
        ctx.fillStyle = SERIES_COLORS[i];
        ctx.fillRect(a.right - L.mx - 2.1, ly - 2.1, 4.2, 4.2);
        ctx.fillStyle = "#222";
        ctx.fillText(lab, a.right - L.tx, ly + 0.5);
      });
      ctx.restore();
    }
  };
}

function makeChart(p) {
  const canvas = document.getElementById(p.id);
  canvas.width = p.box.w;
  canvas.height = p.box.h;
  canvas.style.left = p.box.x + "px";
  canvas.style.top = p.box.y + "px";

  const xAxisH = p.box.h - p.area.b - 3;
  const tickFont = { family: FONT, size: p.tickFont, weight: "bold" };

  const datasets = p.series.map((pts, i) => ({
    label: SERIES_LABELS[i],
    data: pts.map(([x, y]) => ({ x, y })),
    backgroundColor: SERIES_COLORS[i],
    borderColor: SERIES_COLORS[i],
    borderWidth: 0,
    pointStyle: "rect",
    pointRadius: 3,
    pointHoverRadius: 3,
    showLine: false
  }));

  const axisGrid = {
    display: true,
    drawOnChartArea: false,
    drawTicks: true,
    tickLength: 4,
    tickWidth: 1.4,
    tickColor: "#000",
    color: "#000"
  };

  new Chart(canvas, {
    type: "scatter",
    data: { datasets },
    options: {
      responsive: false,
      animation: false,
      devicePixelRatio: 1,
      events: [],
      layout: { padding: { left: 0, top: p.area.t, right: p.box.w - p.area.r, bottom: 3 } },
      plugins: { legend: { display: false }, tooltip: { enabled: false } },
      scales: {
        x: {
          type: "linear",
          min: p.xMin,
          max: p.xMax,
          afterFit: (s) => { s.height = xAxisH - (p.area.b - p.area.b); },
          afterBuildTicks: (s) => { s.ticks = p.xTicks.map((v) => ({ value: v })); },
          ticks: {
            autoSkip: false,
            maxRotation: 0,
            padding: 2,
            color: "#000",
            font: tickFont,
            callback: (v, i) => (p.xLabels ? p.xLabels[i] : Number(v).toFixed(2))
          },
          grid: axisGrid,
          border: { display: false }
        },
        y: {
          type: "linear",
          min: p.yMin,
          max: p.yMax,
          afterFit: (s) => { s.width = p.area.l; },
          afterBuildTicks: (s) => { s.ticks = p.yTicks.map((v) => ({ value: v })); },
          ticks: {
            autoSkip: false,
            padding: 2,
            color: "#000",
            font: tickFont,
            callback: (v) => Number(v).toFixed(p.yDigits)
          },
          grid: axisGrid,
          border: { display: false }
        }
      }
    },
    plugins: [makeDeco(p)]
  });
}

PANELS.forEach(makeChart);
</script>
</body>
</html>
